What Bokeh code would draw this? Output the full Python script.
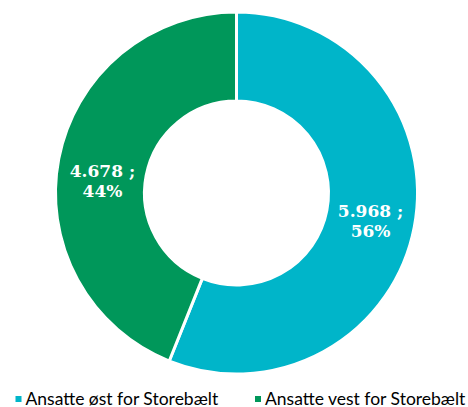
import math
from bokeh.plotting import figure
from bokeh.models import ColumnDataSource
from bokeh.core.properties import value
from bokeh.embed import file_html
from bokeh.resources import INLINE

categories = ["Ansatte øst for Storebælt", "Ansatte vest for Storebælt"]
counts = [5968, 4678]
value_labels = ["5.968", "4.678"]
colors = ["#00B5C9", "#00975A"]

W, H = 468, 407
cx, cy_top = 236, 192.5          # centre in figure pixels (from top)
cy = H - cy_top
r_out, r_in = 181, 92

total = sum(counts)
starts, ends, mids, pcts = [], [], [], []
a = math.pi / 2
for c in counts:
    span = 2 * math.pi * c / total
    starts.append(a)
    ends.append(a - span)
    mids.append(a - span / 2)
    pcts.append(round(100 * c / total))
    a -= span

p = figure(width=W, height=H, x_range=(0, W), y_range=(0, H),
           output_backend="svg", toolbar_location=None, min_border=0)
p.axis.visible = False
p.grid.visible = False
p.outline_line_color = None
p.background_fill_color = "white"

src = ColumnDataSource(dict(start=starts, end=ends, color=colors))
p.annular_wedge(x=cx, y=cy, inner_radius=r_in, outer_radius=r_out,
                start_angle="start", end_angle="end", direction="clock",
                color="color", line_color="white", line_width=3, source=src)

# data labels
nudge = [-2, -14]
r_mid = (r_in + r_out) / 2
lx, ly1, ly2, t1, t2 = [], [], [], [], []
for i, m in enumerate(mids):
    x = cx + r_mid * math.cos(m)
    y = cy + r_mid * math.sin(m) + nudge[i]
    lx.append(x)
    ly1.append(y + 10)
    ly2.append(y - 10)
    t1.append(value_labels[i] + " ;")
    t2.append(f"{pcts[i]}%")
p.text(x=lx, y=ly1, text=t1, text_color="white", text_font=value("DejaVu Serif"),
       text_font_style="bold", text_font_size="17px", text_align="center",
       text_baseline="middle")
p.text(x=lx, y=ly2, text=t2, text_color="white", text_font=value("DejaVu Serif"),
       text_font_style="bold", text_font_size="17px", text_align="center",
       text_baseline="middle")

# legend
leg_x = [18, 257.5]
leg_y = H - 398.5
p.scatter(x=leg_x, y=[leg_y, leg_y], marker="square", size=6, color=colors,
          line_color=None)
p.text(x=[v + 7 for v in leg_x], y=[H - 397.5, H - 397.5], text=categories,
       text_color="#000000", text_font=value("Lato"), text_font_size="17.5px",
       text_baseline="middle", text_align="left")

open("out.html", "w").write(file_html(p, INLINE))
